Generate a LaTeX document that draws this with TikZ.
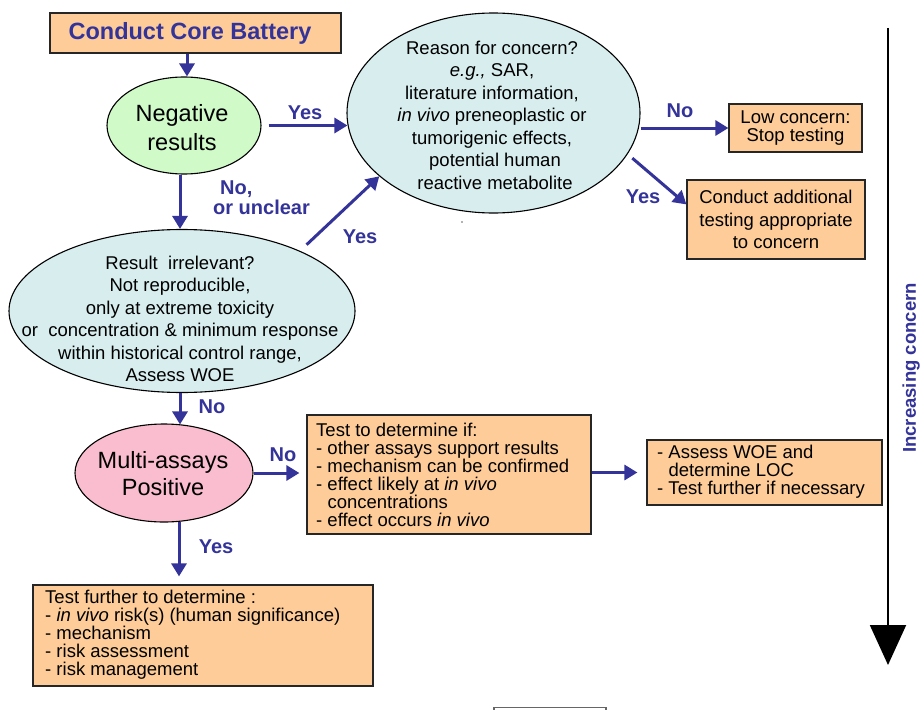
\documentclass[tikz,border=0pt]{standalone}
\usepackage{fontspec}
\setmainfont{Liberation Sans}
\usetikzlibrary{shapes.geometric,arrows.meta,calc}
\definecolor{boxfill}{RGB}{253,204,153}
\definecolor{negfill}{RGB}{208,250,200}
\definecolor{cyanfill}{RGB}{216,237,238}
\definecolor{multifill}{RGB}{249,189,207}
\definecolor{arrblue}{RGB}{51,51,153}
\begin{document}
\begin{tikzpicture}[x=1pt,y=-1pt,
  box/.style={draw=black!85, line width=1.2pt, fill=boxfill, rectangle, inner sep=0pt},
  ell/.style={draw=black, line width=1.1pt, ellipse, inner sep=0pt},
  arr/.style={draw=arrblue, line width=3pt, -{Triangle[length=13pt,width=15pt]}},
  lbl/.style={text=arrblue, inner sep=0pt, font=\fontsize{20}{20}\selectfont\bfseries},
  txt/.style={font=\fontsize{18.5}{22.5}\selectfont, align=center, inner sep=0pt},
  ltxt/.style={font=\fontsize{18.5}{18}\selectfont, align=left, inner sep=0pt}]
\useasboundingbox (0,0) rectangle (923,709);

% boxes
\node[box, minimum width=291pt, minimum height=40pt, text=arrblue,
      font=\fontsize{23.5}{28}\selectfont\bfseries] (core) at (195.5,33) {Conduct Core Battery\hspace*{11pt}};
\node[box, minimum width=133pt, minimum height=48pt, font=\fontsize{18.5}{18}\selectfont, align=center] (low) at (795.5,128) {Low concern:\\Stop testing};
\node[box, txt, minimum width=178pt, minimum height=79pt] (addl) at (776,219.5) {Conduct additional\\testing appropriate\\to concern};
\node[box, minimum width=284pt, minimum height=119pt] (test) at (449,474.5) {};
\node[ltxt, anchor=west] (testtext) at (316,475) {Test to determine if:\\- other assays support results\\- mechanism can be confirmed\\- effect likely at \textit{in vivo}\\\hphantom{- }concentrations\\- effect occurs \textit{in vivo}};
\node[box, minimum width=235pt, minimum height=65pt] (assess) at (764.5,472.5) {};
\node[ltxt, anchor=west] (assesstext) at (657,472) {- Assess WOE and\\\hphantom{- }determine LOC\\- Test further if necessary};
\node[box, minimum width=340pt, minimum height=101pt] (bottom) at (203,635.5) {};
\node[ltxt, anchor=west] (bottomtext) at (45,635) {Test further to determine :\\- \textit{in vivo} risk(s) (human significance)\\- mechanism\\- risk assessment\\- risk management};

% ellipses
\node[ell, fill=negfill, minimum width=154pt, minimum height=97pt] (neg) at (184,125.5) {};
\node[font=\fontsize{23.5}{29}\selectfont, align=center, inner sep=0pt] (negtext) at (182,128) {Negative\\results};
\node[ell, fill=cyanfill, minimum width=293pt, minimum height=200pt] (reason) at (493.5,113) {};
\node[txt] (reasontext) at (492,115) {Reason for concern?\\\textit{e.g.,} SAR,\\literature information,\\\textit{in vivo} preneoplastic or\\tumorigenic effects,\\\hspace*{6pt}potential human\\\hspace*{6pt}reactive metabolite};
\node[ell, fill=cyanfill, minimum width=346pt, minimum height=163pt] (result) at (182,311) {};
\node[txt] (resulttext) at (180,319) {Result\ \ irrelevant?\\Not reproducible,\\only at extreme toxicity\\or\ \ concentration \& minimum response\\within historical control range,\\Assess WOE};
\node[ell, fill=multifill, minimum width=178pt, minimum height=98pt] (multi) at (164,473) {};
\node[font=\fontsize{23.5}{27}\selectfont, align=center, inner sep=0pt] (multitext) at (163,474) {Multi-assays\\Positive};

% connectors
\draw[arr] (core.south -| 187,0) -- (neg.north -| 187,0);
\draw[arr] ($(neg.east)+(7,0)$) -- ($(neg.east -| reason.west)+(1,0)$);
\draw[arr] (low.west -| reason.east) -- (low.west);
\draw[arr] ($(reason.-18)+(6,2)$) -- ($(addl.north west)+(0,25)$);
\draw[arr] (neg.south -| 180,0) -- (result.north -| 180,0);
\draw[arr] ($(result.27)!9pt!(reason.209)$) -- (reason.209);
\draw[arr] (result.south -| 180,0) -- ($(multi.north -| 180,0)+(0,1)$);
\draw[arr] (multi.east) -- ($(multi.east -| test.west)+(-7,0)$);
\draw[arr] ($(multi.south -| 179,0)+(0,-1)$) -- ($(bottom.north -| 179,0)+(0,-8)$);
\draw[arr] (test.east |- assess.west) -- ($(assess.west)+(-9,0)$);

% labels
\node[lbl] (l1) at (305,113) {Yes};
\node[lbl, align=left, anchor=west] (l2) at (213,198) {\hspace*{7pt}No,\\or unclear};
\node[lbl] (l3) at (360,237) {Yes};
\node[lbl] (l4) at (680,111) {No};
\node[lbl] (l5) at (643,197) {Yes};
\node[lbl] (l6) at (212,407) {No};
\node[lbl] (l7) at (283,455) {No};
\node[lbl] (l8) at (216,547) {Yes};

% increasing concern
\coordinate (ctop) at (888,28);
\coordinate (cbot) at (888,665);
\draw[line width=2pt, -{Triangle[length=40pt,width=36pt]}] (ctop) -- (cbot);
\node[text=arrblue, rotate=90, inner sep=0pt, font=\fontsize{18.5}{20}\selectfont\bfseries] (inc) at (911,368) {Increasing concern};

% small marks
\fill[black!60] (462,222) circle (0.8);
\draw[black!60, line width=1.2pt] (494,712) -- (494,707.5) -- (606,707.5) -- (606,712);
\end{tikzpicture}
\end{document}
